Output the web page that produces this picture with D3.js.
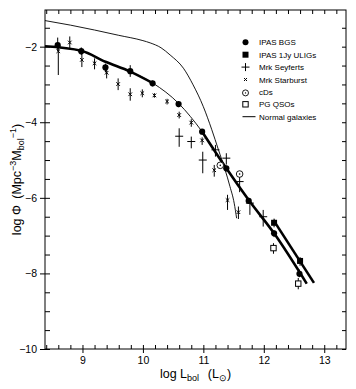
<!DOCTYPE html>
<html><head><meta charset="utf-8">
<script src="https://cdn.jsdelivr.net/npm/d3@7"></script>
<style>
html,body{margin:0;padding:0;background:#fff;}
text{font-family:"Liberation Sans",Arial,Helvetica,sans-serif;fill:#000;}
</style></head><body>
<svg id="chart" width="356" height="389"></svg>
<script>
// ---- data ----
const xTickLabels = [9, 10, 11, 12, 13];
const yTickLabels = [-10, -8, -6, -4, -2];

// IPAS BGS (filled circles)
const bgsX  = [8.59, 8.98, 9.38, 9.79, 10.16, 10.59, 10.98, 11.38, 11.75, 12.17, 12.59];
const bgsY  = [-1.96, -2.12, -2.55, -2.65, -2.97, -3.52, -4.25, -5.22, -6.08, -6.94, -8.01];
const bgsHi = [-1.76, -2.02, -2.45, -2.49, -2.90, -3.45, -4.18, -5.15, -6.00, -6.86, -7.90];
const bgsLo = [-2.10, -2.22, -2.68, -2.80, -3.05, -3.60, -4.32, -5.30, -6.16, -7.04, -8.10];

// IPAS 1Jy ULIGs (filled squares)
const ulX  = [12.17, 12.60];
const ulY  = [-6.66, -7.67];
const ulHi = [-6.55, -7.57];
const ulLo = [-6.78, -7.80];

// Mrk Seyferts (+)
const syX  = [10.60, 10.80, 10.99, 11.20, 11.38, 11.60, 11.77, 11.99];
const syY  = [-4.37, -4.51, -5.00, -4.73, -4.95, -5.57, -6.14, -6.50];
const syHi = [-4.16, -4.38, -4.78, -4.60, -4.82, -5.35, -6.08, -6.32];
const syLo = [-4.65, -4.69, -5.35, -4.91, -5.12, -5.85, -6.45, -6.76];

// Mrk Starburst (x)
const sbX  = [8.60, 8.79, 8.99, 9.20, 9.40, 9.59, 9.79, 9.99, 10.19, 10.40, 10.60, 10.80, 10.98, 11.18, 11.40, 11.58];
const sbY  = [-2.12, -1.89, -2.35, -2.44, -2.69, -2.99, -3.26, -3.23, -3.29, -3.45, -3.81, -4.01, -4.48, -5.27, -6.06, -6.38];
const sbHi = [-1.98, -1.73, -2.19, -2.31, -2.57, -2.84, -3.10, -3.13, -3.23, -3.38, -3.72, -3.92, -4.40, -5.13, -5.92, -6.23];
const sbLo = [-2.75, -2.04, -2.54, -2.60, -2.84, -3.15, -3.43, -3.34, -3.35, -3.53, -3.90, -4.12, -4.60, -5.44, -6.32, -6.56];

// cDs (dotted open circles)
const cdX = [11.28, 11.60];
const cdY = [-5.14, -5.37];

// PG QSOs (open squares)
const qsoX  = [12.16, 12.57];
const qsoY  = [-7.33, -8.27];
const qsoHi = [-7.20, -8.12];
const qsoLo = [-7.48, -8.42];

// fit through BGS (thick, thin middle part)
const fitX = [8.38, 8.98, 9.38, 9.79, 10.17, 10.59, 10.98, 11.38, 11.75, 12.17, 12.71];
const fitY = [-1.99, -2.11, -2.40, -2.66, -2.97, -3.50, -4.25, -5.22, -6.06, -6.94, -8.27];
const fitThinFrom = 4, fitThinTo = 6;

// fit through ULIGs
const ulFitX = [12.16, 12.83];
const ulFitY = [-6.59, -8.25];

// Normal galaxies
const ngX = [8.38, 8.80, 9.20, 9.60, 10.00, 10.12, 10.30, 10.45, 10.67, 10.83, 11.00, 11.14, 11.25, 11.36, 11.44, 11.51, 11.55];
const ngY = [-1.31, -1.43, -1.56, -1.70, -1.84, -1.90, -2.03, -2.22, -2.57, -3.01, -3.59, -4.20, -4.73, -5.26, -5.70, -6.14, -6.54];

const legendLabels = ["IPAS BGS", "IPAS 1Jy ULIGs", "Mrk Seyferts", "Mrk Starburst", "cDs", "PG QSOs", "Normal galaxies"];

// ---- drawing ----
const L = 45, R = 346, T = 10, B = 349;
const svg = d3.select("#chart");
const x = d3.scaleLinear().domain([8.38, 13.36]).range([L, R]);
const y = d3.scaleLinear().domain([-10, -1.03]).range([B, T]);
const fmt = d => d < 0 ? "\u2212" + Math.abs(d) : String(d);

const xMinor = d3.range(8.4, 13.35, 0.2).map(v => +v.toFixed(1));
const yMinor = d3.range(-10, -1.2, 0.5);

function strip(g){ g.select(".domain").remove(); g.selectAll("line").attr("stroke","#000").attr("stroke-width",1); }

// inner ticks on all four sides
svg.append("g").attr("transform",`translate(0,${B})`).call(d3.axisTop(x).tickValues(xMinor).tickSize(4).tickFormat("")).call(strip);
svg.append("g").attr("transform",`translate(0,${T})`).call(d3.axisBottom(x).tickValues(xMinor).tickSize(4).tickFormat("")).call(strip);
svg.append("g").attr("transform",`translate(${L},0)`).call(d3.axisRight(y).tickValues(yMinor).tickSize(5).tickFormat("")).call(strip);
svg.append("g").attr("transform",`translate(${R},0)`).call(d3.axisLeft(y).tickValues(yMinor).tickSize(4).tickFormat("")).call(strip);

// outer major ticks + labels
const gx = svg.append("g").attr("transform",`translate(0,${B})`)
  .call(d3.axisBottom(x).tickValues(xTickLabels).tickSize(4).tickPadding(4).tickFormat(fmt)).call(strip);
gx.selectAll("text").attr("font-size","10.5px").attr("font-family","Liberation Sans, Arial, sans-serif");
const gy = svg.append("g").attr("transform",`translate(${L},0)`)
  .call(d3.axisLeft(y).tickValues(yTickLabels).tickSize(5).tickPadding(3).tickFormat(fmt)).call(strip);
gy.selectAll("text").attr("font-size","10.5px").attr("font-family","Liberation Sans, Arial, sans-serif");

// frame
svg.append("rect").attr("x",L).attr("y",T).attr("width",R-L).attr("height",B-T)
  .attr("fill","none").attr("stroke","#000").attr("stroke-width",1);

const plot = svg.append("g");

// lines
const line = d3.line().x(d => x(d[0])).y(d => y(d[1])).curve(d3.curveMonotoneX);
const ngPts = ngX.map((v,i)=>[v, ngY[i]]);
plot.append("path").attr("d", line(ngPts)).attr("fill","none").attr("stroke","#000").attr("stroke-width",0.9);

const fitPts = fitX.map((v,i)=>[v, fitY[i]]);
plot.append("path").attr("d", line(fitPts)).attr("fill","none").attr("stroke","#000").attr("stroke-width",0.9);
plot.append("path").attr("d", line(fitPts.slice(0, fitThinFrom+1))).attr("fill","none").attr("stroke","#000").attr("stroke-width",2.6);
plot.append("path").attr("d", line(fitPts.slice(fitThinTo))).attr("fill","none").attr("stroke","#000").attr("stroke-width",2.6);
plot.append("path").attr("d", line(ulFitX.map((v,i)=>[v, ulFitY[i]]))).attr("fill","none").attr("stroke","#000").attr("stroke-width",2.6);

function errBars(xs, lo, hi){
  plot.append("g").selectAll("line").data(xs).join("line")
    .attr("x1", d => x(d)).attr("x2", d => x(d))
    .attr("y1", (d,i) => y(hi[i])).attr("y2", (d,i) => y(lo[i]))
    .attr("stroke","#000").attr("stroke-width",1);
}

// Starburst
errBars(sbX, sbLo, sbHi);
plot.append("g").selectAll("path").data(sbX).join("path")
  .attr("d", (d,i) => { const cx=x(d), cy=y(sbY[i]), s=1.8; return `M${cx-s},${cy-s}L${cx+s},${cy+s}M${cx-s},${cy+s}L${cx+s},${cy-s}`; })
  .attr("stroke","#000").attr("stroke-width",1).attr("fill","none");

// Seyferts
errBars(syX, syLo, syHi);
plot.append("g").selectAll("line").data(syX).join("line")
  .attr("x1", d => x(d)-4).attr("x2", d => x(d)+4)
  .attr("y1", (d,i) => y(syY[i])).attr("y2", (d,i) => y(syY[i]))
  .attr("stroke","#000").attr("stroke-width",1);

// BGS
errBars(bgsX, bgsLo, bgsHi);
plot.append("g").selectAll("circle").data(bgsX).join("circle")
  .attr("cx", d => x(d)).attr("cy", (d,i) => y(bgsY[i])).attr("r", 3.1).attr("fill","#000");

// ULIGs
errBars(ulX, ulLo, ulHi);
plot.append("g").selectAll("rect").data(ulX).join("rect")
  .attr("x", d => x(d)-3).attr("y", (d,i) => y(ulY[i])-3).attr("width",6).attr("height",6).attr("fill","#000");

// PG QSOs
errBars(qsoX, qsoLo, qsoHi);
plot.append("g").selectAll("rect").data(qsoX).join("rect")
  .attr("x", d => x(d)-2.7).attr("y", (d,i) => y(qsoY[i])-2.7).attr("width",5.4).attr("height",5.4)
  .attr("fill","#fff").attr("stroke","#000").attr("stroke-width",1);

// cDs
plot.append("g").selectAll("circle").data(cdX).join("circle")
  .attr("cx", d => x(d)).attr("cy", (d,i) => y(cdY[i])).attr("r", 3.3)
  .attr("fill","#fff").attr("stroke","#000").attr("stroke-width",0.9);
plot.append("g").selectAll("circle").data(cdX).join("circle")
  .attr("cx", d => x(d)).attr("cy", (d,i) => y(cdY[i])).attr("r", 0.8).attr("fill","#000");

// legend
const lg = svg.append("g");
const rowY = i => 42.3 + i*12.4;
const sx = 245.5, tx = 259;
legendLabels.forEach((t,i) => {
  lg.append("text").attr("x",tx).attr("y",rowY(i)+3).attr("font-size","8px").text(t);
});
lg.append("circle").attr("cx",sx).attr("cy",rowY(0)).attr("r",3).attr("fill","#000");
lg.append("rect").attr("x",sx-3).attr("y",rowY(1)-3).attr("width",6).attr("height",6).attr("fill","#000");
lg.append("path").attr("d",`M${sx-4},${rowY(2)}H${sx+4}M${sx},${rowY(2)-4}V${rowY(2)+4}`).attr("stroke","#000").attr("stroke-width",1);
lg.append("path").attr("d",`M${sx-1.5},${rowY(3)-1.5}L${sx+1.5},${rowY(3)+1.5}M${sx-1.5},${rowY(3)+1.5}L${sx+1.5},${rowY(3)-1.5}`).attr("stroke","#000").attr("stroke-width",1);
lg.append("circle").attr("cx",sx).attr("cy",rowY(4)+1).attr("r",3).attr("fill","#fff").attr("stroke","#000").attr("stroke-width",0.9);
lg.append("circle").attr("cx",sx).attr("cy",rowY(4)+1).attr("r",0.7).attr("fill","#000");
lg.append("rect").attr("x",sx-2.7).attr("y",rowY(5)-2.7).attr("width",5.4).attr("height",5.4).attr("fill","#fff").attr("stroke","#000").attr("stroke-width",1);
lg.append("line").attr("x1",sx-3).attr("x2",sx+10).attr("y1",rowY(6)).attr("y2",rowY(6)).attr("stroke","#000").attr("stroke-width",1);

// axis titles
const xt = svg.append("text").attr("x", (L+R)/2).attr("y", 378).attr("text-anchor","middle").attr("font-size","12.5px");
xt.append("tspan").text("log L");
xt.append("tspan").attr("dy",3).attr("font-size","9px").text("bol");
xt.append("tspan").attr("dy",-3).text("\u2002\u2009(L");
xt.append("tspan").attr("dy",3).attr("font-size","9px").text("\u2299");
xt.append("tspan").attr("dy",-3).text(")");

const yt = svg.append("text").attr("transform",`translate(21,${(T+B)/2}) rotate(-90)`).attr("text-anchor","middle").attr("font-size","12.5px");
yt.append("tspan").text("log \u03A6\u2002(Mpc");
yt.append("tspan").attr("dy",-5).attr("font-size","9px").text("\u22123");
yt.append("tspan").attr("dy",5).text("M");
yt.append("tspan").attr("dy",3).attr("font-size","9px").text("bol");
yt.append("tspan").attr("dy",-8).attr("font-size","9px").text("\u22121");
yt.append("tspan").attr("dy",5).text(")");
</script>
</body></html>
